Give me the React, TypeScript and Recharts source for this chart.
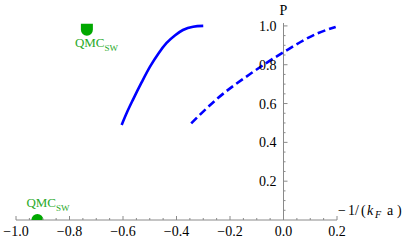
import React from 'react';
import { ComposedChart, Line, Scatter, XAxis, YAxis, ReferenceLine, ReferenceDot } from 'recharts';

// Solid branch P vs -1/(kF a)
const solidX = [-0.605, -0.585, -0.563, -0.53, -0.499, -0.468, -0.437, -0.405, -0.376, -0.338, -0.30];
const solidP = [0.49, 0.555, 0.619, 0.71, 0.79, 0.857, 0.912, 0.952, 0.979, 0.996, 1.0];
// Dashed branch
const dashedX = [-0.345, -0.246, -0.121, 0.004, 0.128, 0.195];
const dashedP = [0.498, 0.627, 0.756, 0.868, 0.962, 0.995];
// QMC points
const qmcUpperX = [-0.735];
const qmcUpperP = [0.98];
const qmcLowerX = [-0.92];
const qmcLowerP = [0];

const xMajorTicks = [-1.0, -0.8, -0.6, -0.4, -0.2, 0.0, 0.2];
const xAllTicks = [-1.0, -0.95, -0.9, -0.85, -0.8, -0.75, -0.7, -0.65, -0.6, -0.55, -0.5, -0.45, -0.4, -0.35, -0.3, -0.25, -0.2, -0.15, -0.1, -0.05, 0.0, 0.05, 0.1, 0.15, 0.2];
const yMajorTicks = [0.2, 0.4, 0.6, 0.8, 1.0];
const yAllTicks = [0.05, 0.1, 0.15, 0.2, 0.25, 0.3, 0.35, 0.4, 0.45, 0.5, 0.55, 0.6, 0.65, 0.7, 0.75, 0.8, 0.85, 0.9, 0.95, 1.0];

const solidData = solidX.map((x, i) => ({ x, p: solidP[i] }));
const dashedData = dashedX.map((x, i) => ({ x, p: dashedP[i] }));
const qmcUpper = qmcUpperX.map((x, i) => ({ x, p: qmcUpperP[i] }));
const qmcLower = qmcLowerX.map((x, i) => ({ x, p: qmcLowerP[i] }));

const FONT = "'Liberation Serif', 'Times New Roman', 'DejaVu Serif', serif";
const AXIS = '#8a8a8a';
const GREEN = '#00a800';
const GREEN_TEXT = '#2aaa2a';
const serif = { fontFamily: FONT };

const isMajor = (v: number, majors: number[]) => majors.some((m) => Math.abs(m - v) < 1e-9);
const fmt = (v: number) => {
  const s = Math.abs(v).toFixed(1);
  return v < -1e-9 ? '\u2212' + s : s;
};

const XTick = (props: any) => {
  const { x, y, payload } = props;
  const v = payload.value as number;
  const major = isMajor(v, xMajorTicks);
  return (
    <g>
      <line x1={x} x2={x} y1={y} y2={y - (major ? 4 : 2)} stroke={AXIS} strokeWidth={1} />
      {major && (
        <text x={x} y={y + 16} textAnchor="middle" style={serif} fontSize={14} fill="#000">
          {fmt(v)}
        </text>
      )}
    </g>
  );
};

const YTickShape = (major: boolean, v: number) => (props: any) => {
  const { cx, cy } = props;
  return (
    <g>
      <line x1={cx} x2={cx + (major ? 4 : 2)} y1={cy} y2={cy} stroke={AXIS} strokeWidth={1} />
      {major && (
        <text x={cx - 7} y={cy + 5} textAnchor="end" style={serif} fontSize={14} fill="#000">
          {fmt(v)}
        </text>
      )}
    </g>
  );
};

const QmcLabel = ({ x, y }: { x: number; y: number }) => (
  <text x={x} y={y} style={serif} fontSize={13} fill={GREEN_TEXT}>
    QMC
    <tspan fontSize={9} dy={4}>SW</tspan>
  </text>
);

const UpperMarker = (props: any) => {
  const { cx, cy } = props;
  return (
    <g>
      <path d={`M${cx - 6},${cy - 6} H${cx + 6} V${cy} A6,6 0 0 1 ${cx - 6},${cy} Z`} fill={GREEN} />
      <QmcLabel x={cx - 12} y={cy + 17} />
    </g>
  );
};

const LowerMarker = (props: any) => {
  const { cx, cy } = props;
  return (
    <g>
      <path d={`M${cx - 6},${cy} A6,6 0 0 1 ${cx + 6},${cy} Z`} fill={GREEN} />
      <QmcLabel x={cx - 11} y={cy - 13} />
    </g>
  );
};

const XLabelShape = (props: any) => {
  const { cx, cy } = props;
  const by = cy - 5;
  return (
    <text y={by} style={serif} fontSize={14} fill="#000">
      <tspan x={cx + 1} y={by}>{'\u2212'}</tspan>
      <tspan x={cx + 11} y={by}>1</tspan>
      <tspan x={cx + 18} y={by}>/</tspan>
      <tspan x={cx + 24} y={by}>(</tspan>
      <tspan x={cx + 30} y={by} fontStyle="italic">k</tspan>
      <tspan x={cx + 38} y={by + 3} fontSize={10} fontStyle="italic">F</tspan>
      <tspan x={cx + 50} y={by}>a</tspan>
      <tspan x={cx + 60} y={by}>)</tspan>
    </text>
  );
};

const PLabelShape = (props: any) => {
  const { cx, cy } = props;
  return (
    <text x={cx} y={cy - 8} textAnchor="middle" style={serif} fontSize={14} fill="#000">
      P
    </text>
  );
};

export default function App() {
  return (
    <div style={{ position: 'absolute', left: 0, top: 0, background: '#fff' }}>
      <ComposedChart width={415} height={245} margin={{ top: 23, right: 78, bottom: 0, left: 16 }}>
        <XAxis
          dataKey="x"
          type="number"
          domain={[-1.0, 0.2]}
          ticks={xAllTicks}
          interval={0}
          allowDataOverflow
          height={25}
          tickSize={0}
          tickMargin={0}
          tickLine={false}
          axisLine={{ stroke: AXIS }}
          tick={<XTick />}
        />
        <YAxis dataKey="p" type="number" domain={[0, 1.015]} allowDataOverflow hide />
        <ReferenceLine x={0} stroke={AXIS} strokeWidth={1} ifOverflow="visible" />
        <ReferenceDot x={0} y={1.015} ifOverflow="visible" shape={PLabelShape} />
        {yAllTicks.map((v) => (
          <ReferenceDot key={v} x={0} y={v} ifOverflow="visible" shape={YTickShape(isMajor(v, yMajorTicks), v)} />
        ))}
        <ReferenceDot x={0.2} y={0} ifOverflow="visible" shape={XLabelShape} />
        <Line data={solidData} dataKey="p" type="monotone" stroke="#0000ff" strokeWidth={2.6} dot={false} isAnimationActive={false} />
        <Line data={dashedData} dataKey="p" type="monotone" stroke="#0000ff" strokeWidth={2.6} strokeDasharray="8 4" dot={false} isAnimationActive={false} />
        <Scatter data={qmcUpper} dataKey="p" shape={UpperMarker} isAnimationActive={false} />
        <Scatter data={qmcLower} dataKey="p" shape={LowerMarker} isAnimationActive={false} />
      </ComposedChart>
    </div>
  );
}
